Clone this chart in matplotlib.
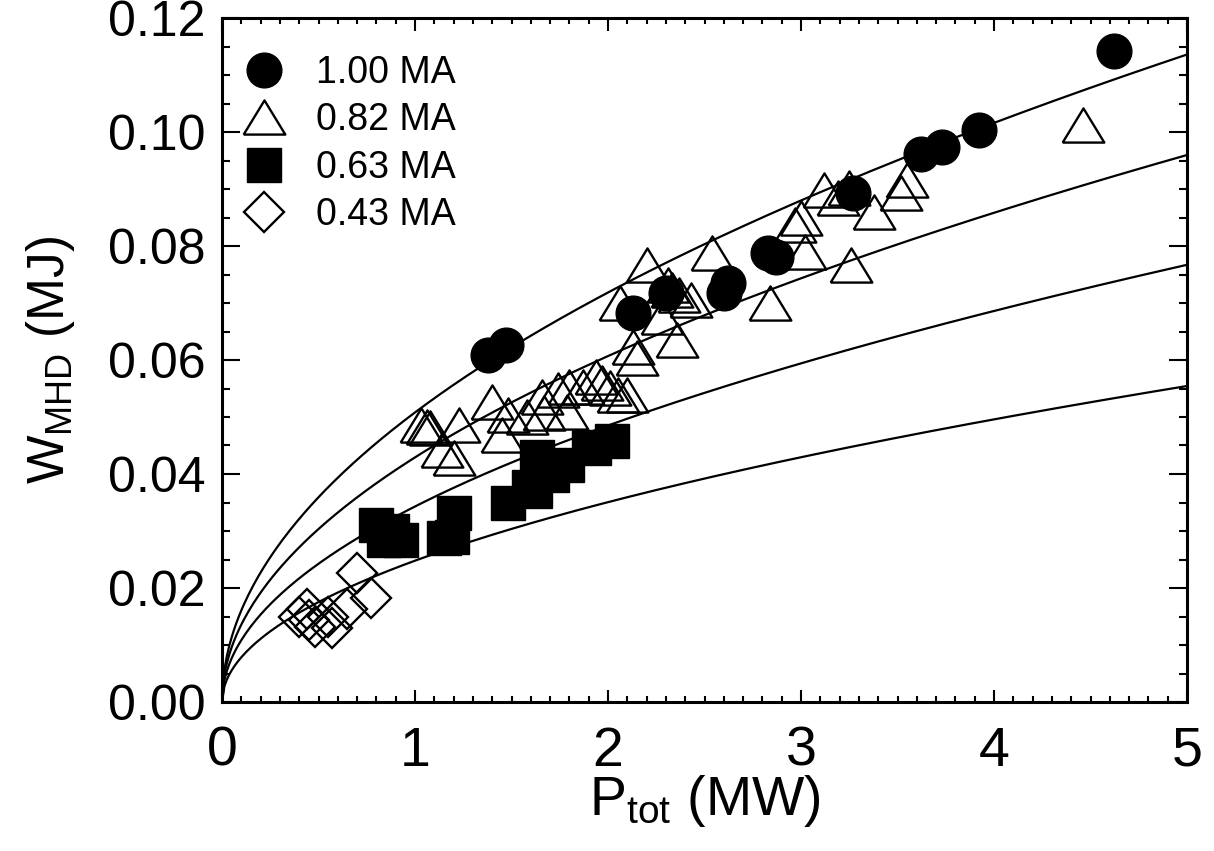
import numpy as np
import matplotlib

matplotlib.use("Agg")
import matplotlib.pyplot as plt
from matplotlib.ticker import MultipleLocator, FormatStrFormatter

plt.rcParams["font.family"] = ["Liberation Sans", "DejaVu Sans"]
plt.rcParams["mathtext.fontset"] = "custom"
plt.rcParams["mathtext.rm"] = "Liberation Sans"
plt.rcParams["mathtext.it"] = "Liberation Sans"

# plasma current of each data group (MA)
currents = [1.00, 0.82, 0.63, 0.43]
labels = ["1.00 MA", "0.82 MA", "0.63 MA", "0.43 MA"]

# 1.00 MA
p_100 = [1.38, 1.47, 2.13, 2.30, 2.60, 2.62, 2.83, 2.87, 3.27, 3.62, 3.73, 3.92, 4.62]
w_100 = [0.0609, 0.0626, 0.0682, 0.0718, 0.0718, 0.0735, 0.0788, 0.0780,
         0.0893, 0.0961, 0.0974, 0.1004, 0.1142]

# 0.82 MA
p_082 = [1.03, 1.06, 1.08, 1.14, 1.20, 1.23, 1.40, 1.45, 1.48, 1.58, 1.66,
         1.67, 1.74, 1.79, 1.80, 1.87, 1.94, 1.97, 2.01, 2.05, 2.10, 2.06,
         2.13, 2.15, 2.20, 2.28, 2.31, 2.33, 2.37, 2.43, 2.36, 2.54, 2.84,
         2.97, 3.00, 3.02, 3.12, 3.19, 3.25, 3.26, 3.38, 3.52, 3.55, 4.46]
w_082 = [0.0486, 0.0482, 0.0480, 0.0442, 0.0428, 0.0486, 0.0526, 0.0468,
         0.0504, 0.0500, 0.0535, 0.0507, 0.0547, 0.0509, 0.0553, 0.0553,
         0.0570, 0.0560, 0.0551, 0.0539, 0.0539, 0.0700, 0.0623, 0.0604,
         0.0767, 0.0675, 0.0732, 0.0723, 0.0714, 0.0705, 0.0635, 0.0788,
         0.0700, 0.0837, 0.0849, 0.0789, 0.0898, 0.0884, 0.0902, 0.0767,
         0.0860, 0.0893, 0.0916, 0.1012]

# 0.63 MA
p_063 = [0.80, 0.84, 0.88, 0.93, 1.15, 1.19, 1.20, 1.48, 1.59, 1.62, 1.63,
         1.71, 1.79, 1.90, 1.93, 2.02]
w_063 = [0.0311, 0.0285, 0.0300, 0.0285, 0.0288, 0.0290, 0.0332, 0.0349,
         0.0377, 0.0370, 0.0430, 0.0398, 0.0416, 0.0447, 0.0446, 0.0458]

# 0.43 MA
p_043 = [0.40, 0.44, 0.45, 0.48, 0.55, 0.57, 0.65, 0.70, 0.77]
w_043 = [0.0150, 0.0163, 0.0143, 0.0132, 0.0149, 0.0130, 0.0163, 0.0226, 0.0182]

# scaling-law fit: W = c * I^a_i * P^a_p
fit_c = 0.0508
fit_ai = 0.85
fit_ap = 0.5

fig = plt.figure(figsize=(12.14, 8.51), dpi=100)
ax = fig.add_axes([222 / 1214, 1 - 702 / 851, 965 / 1214, 684 / 851])

p_fit = np.linspace(0, 5, 400)
for cur in currents:
    ax.plot(p_fit, fit_c * cur ** fit_ai * p_fit ** fit_ap, color="black", lw=1.6, zorder=1)

# triangle shape: wider than tall, centred on its box
tri = [(-1, -0.82), (1, -0.82), (0, 0.82), (-1, -0.82)]

ax.plot(p_100, w_100, "o", ms=25, mfc="black", mec="black", mew=1, ls="none",
        label=labels[0], zorder=3)
ax.plot(p_082, w_082, marker=tri, ms=30, mfc="none", mec="black", mew=1.7, ls="none",
        label=labels[1], zorder=2)
ax.plot(p_063, w_063, "s", ms=25, mfc="black", mec="black", mew=1, ls="none",
        label=labels[2], zorder=3)
ax.plot(p_043, w_043, "D", ms=20.5, mfc="none", mec="black", mew=1.7, ls="none",
        label=labels[3], zorder=2)

ax.set_xlim(0, 5)
ax.set_ylim(0, 0.12)
ax.xaxis.set_major_locator(MultipleLocator(1))
ax.xaxis.set_minor_locator(MultipleLocator(0.1))
ax.yaxis.set_major_locator(MultipleLocator(0.02))
ax.yaxis.set_minor_locator(MultipleLocator(0.005))
ax.yaxis.set_major_formatter(FormatStrFormatter("%.2f"))

for s in ax.spines.values():
    s.set_linewidth(2.2)
ax.tick_params(which="both", direction="in", top=True, right=True, width=1.5, colors="black")
ax.tick_params(axis="x", which="major", length=9, pad=17, labelsize=40)
ax.tick_params(axis="x", which="minor", length=4)
ax.tick_params(axis="y", which="major", length=13, pad=12, labelsize=36)
ax.tick_params(axis="y", which="minor", length=6)

ax.set_xlabel(r"P$_{\rm tot}$ (MW)", fontsize=40, labelpad=-3)
ax.set_ylabel(r"W$_{\rm MHD}$ (MJ)", fontsize=37, labelpad=22)

ax.legend(loc="upper left", bbox_to_anchor=(0.0064, 0.9675), frameon=False,
          fontsize=27, numpoints=1, handlelength=1.1, handletextpad=0.85,
          labelspacing=0.3, borderaxespad=0, borderpad=0.4)

fig.savefig("out.png", dpi=100)
